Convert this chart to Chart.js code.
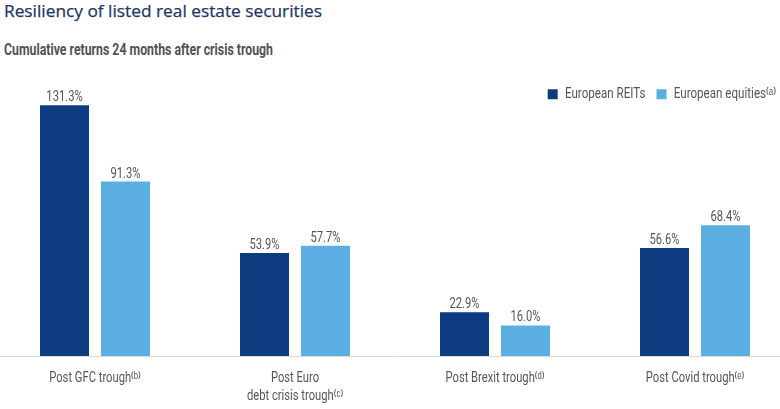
<!DOCTYPE html>
<html>
<head>
<meta charset="utf-8">
<script src="https://cdn.jsdelivr.net/npm/chart.js@4/dist/chart.umd.min.js"></script>
<style>
  html, body { margin: 0; padding: 0; background: #ffffff; width: 780px; height: 409px; overflow: hidden; position: relative; }
  .hd { position: absolute; left: 4px; white-space: nowrap; transform-origin: 0 0; line-height: 1; }
  #title { top: 2px; font-family: "Open Sans", sans-serif; font-size: 17px; font-weight: 500; color: #1c3765; -webkit-text-stroke: 0.25px #1c3765; }
  #subtitle { top: 42px; font-family: Roboto, "Open Sans", sans-serif; font-weight: bold; font-size: 16px; color: #525252; }
  #wrap { position: absolute; left: -5px; top: 0; width: 800px; height: 409px; }
</style>
</head>
<body>
<div id="title" class="hd">Resiliency of listed real estate securities</div>
<div id="subtitle" class="hd">Cumulative returns 24 months after crisis trough</div>
<div id="wrap"><canvas id="c" width="800" height="409"></canvas></div>
<script>
const categories = [
  ['Post GFC trough\u207D\u1D47\u207E'],
  ['Post Euro', 'debt crisis trough\u207D\u1D9C\u207E'],
  ['Post Brexit trough\u207D\u1D48\u207E'],
  ['Post Covid trough\u207D\u1D49\u207E']
];
const seriesNames = ['European REITs', 'European equities\u207D\u1D43\u207E'];
const reitsValues = [131.3, 53.9, 22.9, 56.6];
const equitiesValues = [91.3, 57.7, 16.0, 68.4];

// fit heading widths to the reference
function fitWidth(id, target) {
  const el = document.getElementById(id);
  const w = el.getBoundingClientRect().width;
  el.style.transform = 'scaleX(' + (target / w) + ')';
}
fitWidth('title', 318);
fitWidth('subtitle', 269);

const FONT = 'Roboto, "Open Sans", sans-serif';
const SQUEEZE = 0.8; // condensed lettering like the reference

const canvas = document.getElementById('c');
const ctx = canvas.getContext('2d');
const origFill = ctx.fillText.bind(ctx);
const origMeasure = ctx.measureText.bind(ctx);
ctx.fillText = function (text, x, y, maxW) {
  ctx.save();
  ctx.translate(x, y);
  ctx.scale(SQUEEZE, 1);
  if (maxW === undefined) origFill(text, 0, 0);
  else origFill(text, 0, 0, maxW / SQUEEZE);
  ctx.restore();
};
ctx.measureText = function (text) {
  const m = origMeasure(text);
  return {
    width: m.width * SQUEEZE,
    actualBoundingBoxAscent: m.actualBoundingBoxAscent,
    actualBoundingBoxDescent: m.actualBoundingBoxDescent,
    actualBoundingBoxLeft: m.actualBoundingBoxLeft * SQUEEZE,
    actualBoundingBoxRight: m.actualBoundingBoxRight * SQUEEZE
  };
};

const valueLabels = {
  id: 'valueLabels',
  afterDatasetsDraw(chart) {
    const c = chart.ctx;
    c.save();
    c.font = '14px ' + FONT;
    c.fillStyle = '#555555';
    c.textAlign = 'center';
    c.textBaseline = 'alphabetic';
    chart.data.datasets.forEach((ds, i) => {
      chart.getDatasetMeta(i).data.forEach((bar, j) => {
        c.fillText(ds.data[j].toFixed(1) + '%', bar.x, bar.y - 4);
      });
    });
    c.restore();
  }
};

// move the legend down into the plot, as in the reference
const legendPlacer = {
  id: 'legendPlacer',
  afterLayout(chart) {
    const lg = chart.legend;
    if (!lg) return;
    lg.top += 42; lg.bottom += 42;
    lg.left -= 8; lg.right -= 8;
  }
};

new Chart(canvas, {
  type: 'bar',
  data: {
    labels: categories,
    datasets: [
      { label: seriesNames[0], data: reitsValues, backgroundColor: '#0c3b80' },
      { label: seriesNames[1], data: equitiesValues, backgroundColor: '#5cafe3' }
    ]
  },
  options: {
    responsive: false,
    devicePixelRatio: 1,
    animation: false,
    layout: { padding: { top: 34, bottom: 0, left: 0, right: 0 } },
    datasets: { bar: { categoryPercentage: 0.61, barPercentage: 0.803 } },
    scales: {
      x: {
        grid: { display: false, drawTicks: false },
        border: { display: true, color: '#dcdcdc', width: 1 },
        ticks: { color: '#555555', font: { family: FONT, size: 14, lineHeight: 1.3 }, padding: 13, maxRotation: 0, autoSkip: false },
        afterFit(scale) { scale.height = 53; }
      },
      y: {
        display: false,
        min: 0,
        max: 150
      }
    },
    plugins: {
      legend: {
        position: 'top',
        align: 'end',
        labels: {
          boxWidth: 10,
          boxHeight: 10,
          padding: 11,
          color: '#555555',
          font: { family: FONT, size: 14.5 }
        }
      },
      tooltip: { enabled: false }
    }
  },
  plugins: [valueLabels, legendPlacer]
});
</script>
</body>
</html>
